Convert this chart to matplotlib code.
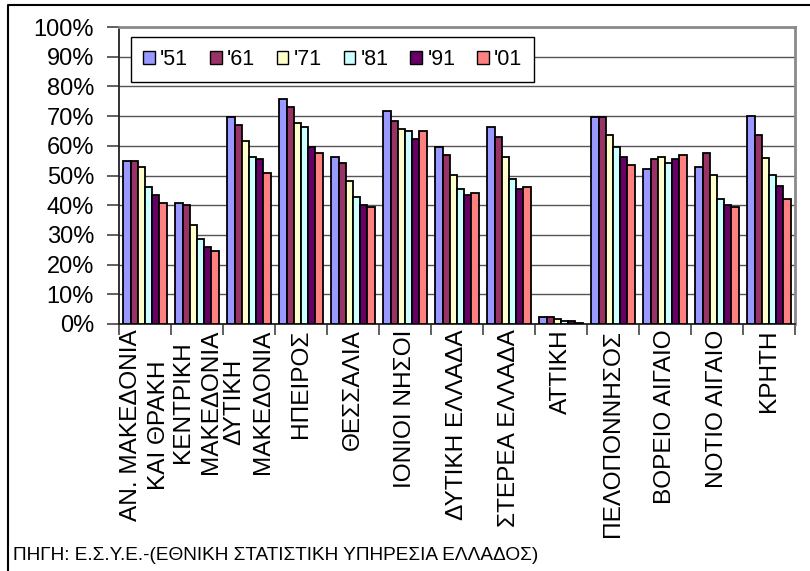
import numpy as np
import matplotlib
matplotlib.use("Agg")
import matplotlib.pyplot as plt
from matplotlib.lines import Line2D
from matplotlib.patches import Patch

plt.rcParams["font.family"] = ["Liberation Sans", "DejaVu Sans"]

# Regions (x axis) and share per census year, in %
categories = [
    "ΑΝ. ΜΑΚΕΔΟΝΙΑ\nΚΑΙ ΘΡΑΚΗ", "ΚΕΝΤΡΙΚΗ\nΜΑΚΕΔΟΝΙΑ", "ΔΥΤΙΚΗ\nΜΑΚΕΔΟΝΙΑ",
    "ΗΠΕΙΡΟΣ", "ΘΕΣΣΑΛΙΑ", "ΙΟΝΙΟΙ ΝΗΣΟΙ", "ΔΥΤΙΚΗ ΕΛΛΑΔΑ", "ΣΤΕΡΕΑ ΕΛΛΑΔΑ",
    "ΑΤΤΙΚΗ", "ΠΕΛΟΠΟΝΝΗΣΟΣ", "ΒΟΡΕΙΟ ΑΙΓΑΙΟ", "ΝΟΤΙΟ ΑΙΓΑΙΟ", "ΚΡΗΤΗ",
]
years = ["'51", "'61", "'71", "'81", "'91", "'01"]

y51 = [55.0, 40.7, 69.7, 75.8, 56.2, 71.7, 59.6, 66.3, 2.5, 69.7, 52.2, 52.9, 70.0]
y61 = [55.0, 40.1, 67.0, 73.1, 54.2, 68.4, 56.9, 63.0, 2.5, 69.7, 55.6, 57.6, 63.8]
y71 = [52.9, 33.3, 61.6, 67.7, 48.1, 65.7, 50.2, 56.2, 1.8, 63.6, 56.2, 50.2, 55.8]
y81 = [46.1, 28.6, 56.2, 66.3, 42.8, 65.0, 45.5, 48.8, 1.0, 59.6, 54.2, 42.1, 50.3]
y91 = [43.4, 25.9, 55.6, 59.6, 40.1, 62.3, 43.4, 45.5, 1.0, 56.2, 55.6, 40.1, 46.4]
y01 = [40.7, 24.6, 50.8, 57.6, 39.4, 65.0, 44.1, 46.1, 0.4, 53.5, 56.9, 39.4, 42.0]
series = [y51, y61, y71, y81, y91, y01]

colors = ["#9999FF", "#993366", "#FFFFCC", "#CCFFFF", "#660066", "#FF8080"]

source_text = "ΠΗΓΗ: Ε.Σ.Υ.Ε.-(ΕΘΝΙΚΗ ΣΤΑΤΙΣΤΙΚΗ ΥΠΗΡΕΣΙΑ ΕΛΛΑΔΟΣ)"

W, H = 810, 571
fig = plt.figure(figsize=(W / 100, H / 100), dpi=100)
ax = fig.add_axes([119 / W, 1 - 324 / H, 676 / W, 297 / H])

x = np.arange(len(categories))
group = 0.83
bw = group / len(series)
for j, (vals, col) in enumerate(zip(series, colors)):
    ax.bar(x - group / 2 + (j + 0.5) * bw, vals, width=bw, color=col,
           edgecolor="black", linewidth=1.3, zorder=3)

ax.set_xlim(-0.5, len(categories) - 0.5)
ax.set_ylim(0, 100)
ax.set_yticks(np.arange(0, 101, 10))
ax.set_yticklabels([f"{v}%" for v in range(0, 101, 10)])
ax.yaxis.grid(True, color="#555555", linewidth=1.0, zorder=0)
ax.set_axisbelow(True)

ax.set_xticks(x)
ax.set_xticklabels(categories, rotation=90, ha="center", va="top",
                   multialignment="center", linespacing=1.4)
ax.set_xticks(np.arange(-0.5, len(categories), 1), minor=True)
ax.tick_params(axis="x", which="major", length=0, pad=4, labelsize=17.6)
ax.tick_params(axis="x", which="minor", length=8, width=1.2, color="#444444")
ax.tick_params(axis="y", length=9, width=1.2, pad=9, labelsize=17, color="#444444")

for side in ("left", "bottom"):
    ax.spines[side].set_color("#222222")
    ax.spines[side].set_linewidth(1.3)
for side in ("top", "right"):
    ax.spines[side].set_color("#8a8a8a")
    ax.spines[side].set_linewidth(2)

handles = [Patch(facecolor=c, edgecolor="black", linewidth=1.0) for c in colors]
leg = ax.legend(handles, years, loc="upper left", bbox_to_anchor=(0.018, 0.966),
                borderaxespad=0, ncol=6, fontsize=15.5, frameon=True, fancybox=False,
                framealpha=1, edgecolor="black", handlelength=0.55, handleheight=0.55,
                handletextpad=0.25, columnspacing=1.0, borderpad=0.55)
leg.get_frame().set_linewidth(1.0)
leg.set_zorder(5)

# outer chart border (cropped on the right and bottom)
fig.add_artist(Line2D([8 / W, 8 / W, 1.0], [0.0, 1 - 5 / H, 1 - 5 / H],
                      color="black", linewidth=1.5))

fig.text(13 / W, 1 - 555 / H, source_text, fontsize=13.7, va="center", ha="left")

fig.savefig("out.png", dpi=100)
